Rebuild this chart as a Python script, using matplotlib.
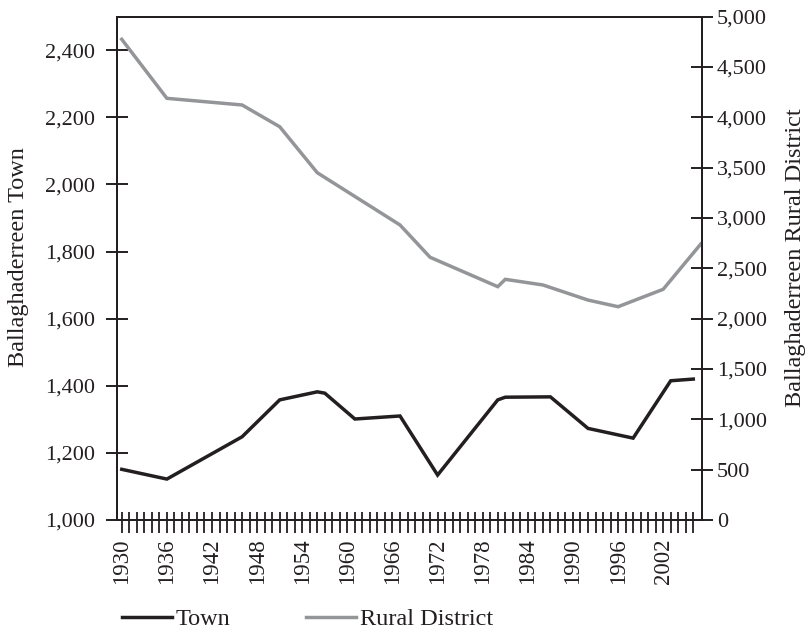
import matplotlib
matplotlib.use('Agg')
import matplotlib.pyplot as plt
from matplotlib.ticker import FuncFormatter, FixedLocator, NullFormatter
from matplotlib.lines import Line2D

# ---- data ----
town_years = [1930, 1936, 1946, 1951, 1956, 1957, 1961, 1967, 1972, 1980, 1981, 1987, 1992, 1998, 2003, 2006]
town_pop = [1151, 1122, 1248, 1358, 1382, 1378, 1301, 1310, 1134, 1358, 1366, 1367, 1273, 1244, 1415, 1420]
rural_years = [1930, 1936, 1946, 1951, 1956, 1967, 1971, 1980, 1981, 1986, 1992, 1996, 2002, 2007]
rural_pop = [4775, 4189, 4123, 3907, 3450, 2931, 2610, 2318, 2391, 2335, 2185, 2119, 2292, 2742]
year_ticks = list(range(1930, 2007))
year_labels = [str(y) if (y - 1930) % 6 == 0 else '' for y in year_ticks]
left_ticks = [1000, 1200, 1400, 1600, 1800, 2000, 2200, 2400]
right_ticks = [0, 500, 1000, 1500, 2000, 2500, 3000, 3500, 4000, 4500, 5000]

BLACK = '#231f20'
GRAY = '#939598'
plt.rcParams['font.family'] = ['Liberation Serif', 'DejaVu Serif']
FS = 16
FS_LAB = 17.5

fig = plt.figure(figsize=(8.1, 6.33), dpi=100)
ax = fig.add_axes([116.5 / 810, 1 - 520 / 633, (702.3 - 116.5) / 810, (520 - 16.7) / 633])
ax2 = ax.twinx()

ax.plot(town_years, town_pop, color=BLACK, lw=2.5, solid_joinstyle='miter')
ax2.plot(rural_years, rural_pop, color=GRAY, lw=2.5, solid_joinstyle='miter')

ax.set_xlim(1929.3, 2007.2)
ax.set_ylim(1000, 2500)
ax2.set_ylim(0, 5000)

for a in (ax, ax2):
    for s in a.spines.values():
        s.set_linewidth(1.4)
        s.set_color(BLACK)

fmt = FuncFormatter(lambda v, p: f'{v:,.0f}')
ax.yaxis.set_major_locator(FixedLocator(left_ticks))
ax.yaxis.set_major_formatter(fmt)
ax2.yaxis.set_major_locator(FixedLocator(right_ticks))
ax2.yaxis.set_major_formatter(fmt)

ax.tick_params(axis='y', direction='inout', length=16.3, width=1.4, pad=7.5,
               labelsize=FS, color=BLACK, labelcolor=BLACK)
ax2.tick_params(axis='y', direction='inout', length=16.3, width=1.4, pad=2.5,
                labelsize=FS, color=BLACK, labelcolor=BLACK)

ax.set_xticks(year_ticks)
ax.set_xticklabels(year_labels, rotation=90)
ax.xaxis.set_minor_locator(FixedLocator(year_ticks))
ax.xaxis.set_minor_formatter(NullFormatter())
ax.xaxis.remove_overlapping_locs = False
ax.tick_params(axis='x', which='major', direction='out', length=9.6, width=1.3, pad=3.6,
               labelsize=16.5, color=BLACK, labelcolor=BLACK)
ax.tick_params(axis='x', which='minor', direction='in', length=5.5, width=1.3, color=BLACK)

fig.text(19 / 810, 1 - 257.5 / 633, 'Ballaghaderreen Town', rotation=90,
         ha='center', va='center', fontsize=FS_LAB, color=BLACK)
fig.text(795 / 810, 1 - 257.5 / 633, 'Ballaghaderreen Rural District', rotation=90,
         ha='center', va='center', fontsize=FS_LAB, color=BLACK)

handles = [Line2D([], [], color=BLACK, lw=2.5), Line2D([], [], color=GRAY, lw=2.5)]
fig.legend(handles, ['Town', 'Rural District'], loc='center left',
           bbox_to_anchor=(122 / 810, 1 - 619 / 633), ncol=2, frameon=False,
           fontsize=FS_LAB, handlelength=2.06, handletextpad=0.16, columnspacing=3.09,
           borderpad=0, borderaxespad=0, labelcolor=BLACK)

fig.savefig('out.png', dpi=100)
